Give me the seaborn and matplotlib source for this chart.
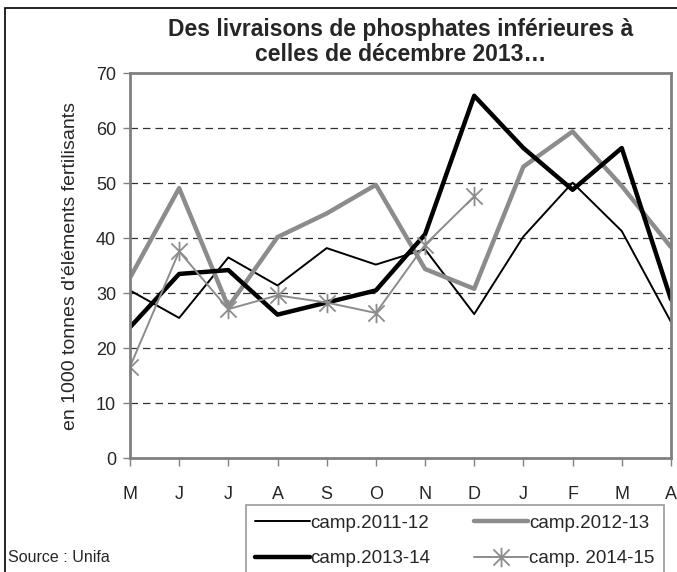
import matplotlib
matplotlib.use("Agg")
import matplotlib.pyplot as plt
from matplotlib.path import Path
from matplotlib.patches import Rectangle
import seaborn as sns
import numpy as np

# Data
months = ['M', 'J', 'J', 'A', 'S', 'O', 'N', 'D', 'J', 'F', 'M', 'A']
camp_2011_12 = [30.5, 25.5, 36.5, 31.4, 38.2, 35.2, 38.0, 26.2, 40.3, 50.1, 41.3, 24.8]
camp_2012_13 = [32.8, 49.1, 27.5, 40.2, 44.5, 49.7, 34.4, 30.8, 53.0, 59.4, 49.5, 38.4]
camp_2013_14 = [23.8, 33.5, 34.2, 26.1, 28.3, 30.5, 40.7, 65.9, 56.4, 48.8, 56.4, 28.9]
camp_2014_15 = [16.6, 37.6, 27.1, 29.6, 28.3, 26.4, 38.8, 47.6]

sns.set_theme(style="white")
plt.rcParams['font.family'] = ['Liberation Sans', 'DejaVu Sans']

fig = plt.figure(figsize=(6.77, 5.72), dpi=100)
ax = fig.add_axes([0.192, 0.199, 0.799, 0.673])

x = np.arange(len(months))

# Excel-like star marker: X plus vertical bar
star = Path([(-1, -1), (1, 1), (-1, 1), (1, -1), (0, -1.2), (0, 1.2)],
            [Path.MOVETO, Path.LINETO, Path.MOVETO, Path.LINETO, Path.MOVETO, Path.LINETO])

sns.lineplot(x=x, y=camp_2011_12, ax=ax, color='black', linewidth=1.4,
             sort=False, label='camp.2011-12')
sns.lineplot(x=x, y=camp_2012_13, ax=ax, color='#8c8c8c', linewidth=3.2,
             sort=False, label='camp.2012-13')
sns.lineplot(x=x, y=camp_2013_14, ax=ax, color='black', linewidth=3.2,
             sort=False, label='camp.2013-14')
sns.lineplot(x=x[:len(camp_2014_15)], y=camp_2014_15, ax=ax, color='#8c8c8c',
             linewidth=1.4, marker=star, markersize=14, markeredgewidth=1.3,
             markeredgecolor='#8c8c8c', sort=False, label='camp. 2014-15')

ax.set_xlim(0, len(months) - 1)
ax.set_ylim(0, 70)
ax.set_yticks(range(0, 71, 10))
ax.set_xticks(x)
ax.set_xticklabels(months)
ax.tick_params(axis='x', direction='out', length=6, width=1, color='#808080',
               pad=14, labelsize=13, bottom=True)
ax.tick_params(axis='y', direction='out', length=5, width=1, color='#808080',
               pad=5, labelsize=13, left=True)

for y in range(10, 70, 10):
    ax.axhline(y, color='#333333', linewidth=0.9, linestyle=(0, (6, 4)), zorder=0.5)

for side in ['left', 'right', 'top', 'bottom']:
    ax.spines[side].set_color('#808080')
    ax.spines[side].set_linewidth(2)

ax.set_ylabel("en 1000 tonnes d'éléments fertilisants", fontsize=14, labelpad=12)
ax.set_xlabel('')
ax.set_title('Des livraisons de phosphates inférieures à\ncelles de décembre 2013…',
             fontsize=16.5, fontweight='bold', pad=9, linespacing=1.08)

# Legend in row order
h, l = ax.get_legend_handles_labels()
order = [0, 2, 1, 3]
leg = fig.legend([h[i] for i in order], [l[i] for i in order], ncol=2,
                 loc='upper left', bbox_to_anchor=(0.363, 0.1171),
                 frameon=True, fancybox=False, fontsize=13.5,
                 handlelength=2.9, handletextpad=0.05, columnspacing=2.3,
                 labelspacing=1.0, borderpad=0.5, borderaxespad=0)
leg.get_frame().set_edgecolor('#808080')
leg.get_frame().set_linewidth(1.2)
if ax.get_legend():
    ax.get_legend().remove()

fig.text(0.012, 0.012, 'Source : Unifa', fontsize=11.5, ha='left', va='bottom')

# Chart border
fig.patches.append(Rectangle((0.008, -0.05), 1.1, 1.036, transform=fig.transFigure,
                             fill=False, edgecolor='black', linewidth=1.2))

fig.savefig('out.png', dpi=100)
